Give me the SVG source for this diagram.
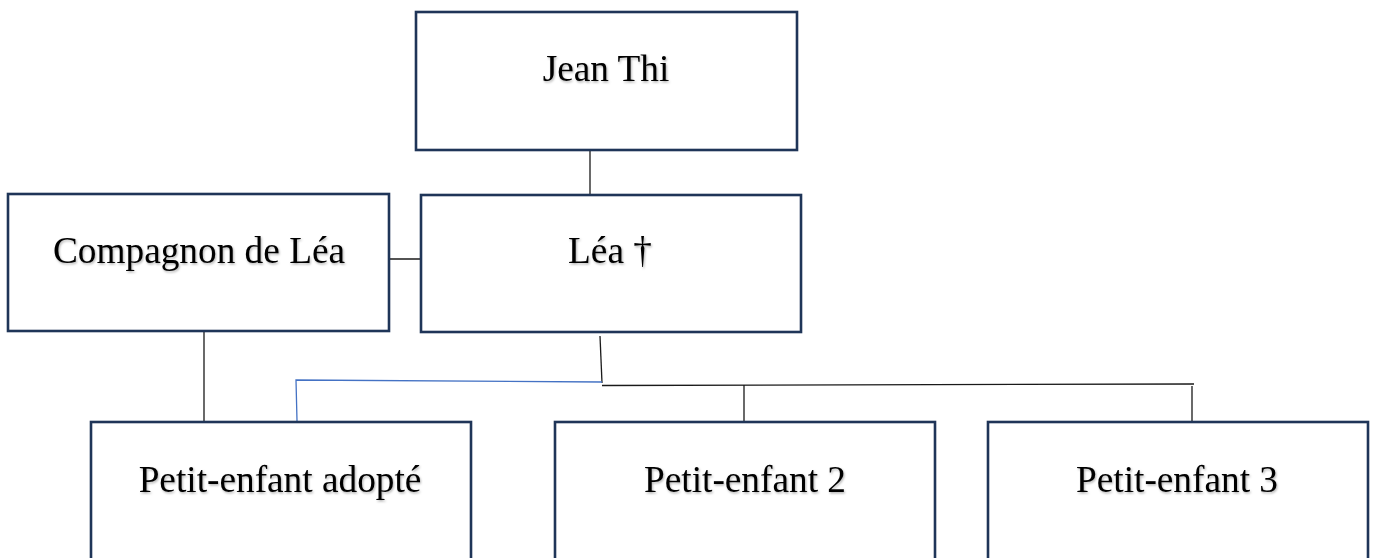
<svg xmlns="http://www.w3.org/2000/svg" width="1376" height="558" viewBox="0 0 1376 558">
<style>
.box{fill:#ffffff;stroke:#1f3558;stroke-width:2.6}
.lbl{font-family:"Liberation Serif","Times New Roman",serif;font-size:37.3px;fill:#000000;text-anchor:middle;filter:url(#sh)}
.ln{stroke:#1a1a1a;stroke-width:1.3;fill:none}
.blue{stroke:#4472c4;stroke-width:1.3;fill:none}
</style>
<defs>
<filter id="sh" x="-10%" y="-30%" width="120%" height="160%">
<feDropShadow dx="1" dy="1.5" stdDeviation="1" flood-color="#000" flood-opacity="0.3"/>
</filter>
</defs>
<rect width="1376" height="558" fill="#ffffff"/>
<g id="connectors">
<line class="ln" x1="590" y1="150" x2="590" y2="197"/>
<line class="ln" x1="386" y1="259" x2="421" y2="259"/>
<line class="ln" x1="204" y1="332" x2="204" y2="421"/>
<line class="ln" x1="600" y1="336" x2="602" y2="383"/>
<polyline class="blue" points="602,382 296,380 297,421"/>
<line class="ln" x1="602" y1="385.5" x2="1194" y2="384"/>
<line class="ln" x1="744" y1="385" x2="744" y2="425"/>
<line class="ln" x1="1192" y1="386" x2="1192" y2="425"/>
</g>
<g id="jean">
<rect class="box" x="416" y="12" width="381" height="138"/>
<text class="lbl" x="606" y="81">Jean Thi</text>
</g>
<g id="compagnon">
<rect class="box" x="8" y="194" width="381" height="137"/>
<text class="lbl" x="199" y="263">Compagnon de Léa</text>
</g>
<g id="lea">
<rect class="box" x="421" y="195" width="380" height="137"/>
<text class="lbl" x="610" y="263">Léa †</text>
</g>
<g id="pe1">
<rect class="box" x="91" y="422" width="380" height="150"/>
<text class="lbl" x="280" y="492">Petit-enfant adopté</text>
</g>
<g id="pe2">
<rect class="box" x="555" y="422" width="380" height="150"/>
<text class="lbl" x="745" y="492">Petit-enfant 2</text>
</g>
<g id="pe3">
<rect class="box" x="988" y="422" width="380" height="150"/>
<text class="lbl" x="1177" y="492">Petit-enfant 3</text>
</g>
</svg>
